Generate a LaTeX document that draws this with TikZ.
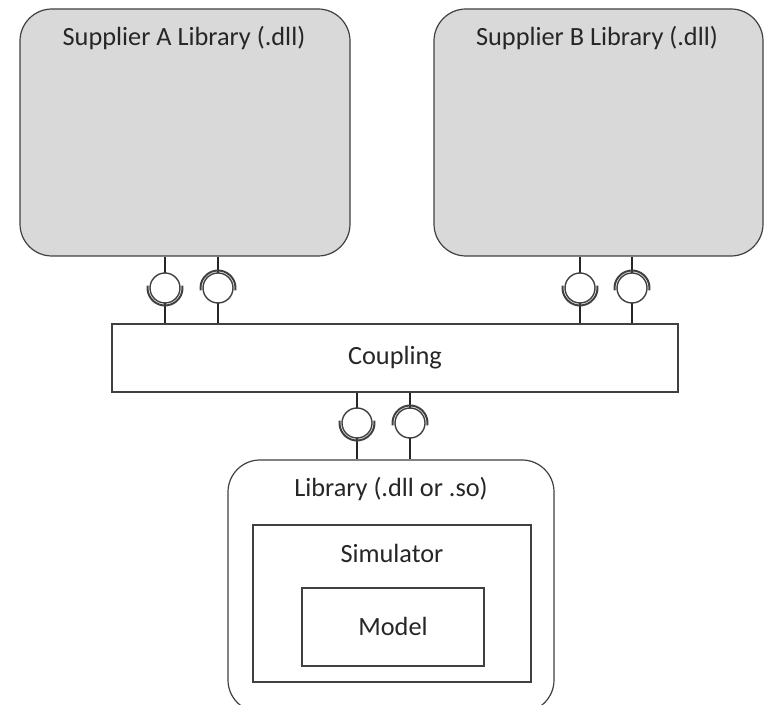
\documentclass[tikz,border=0pt]{standalone}
\usepackage{fontspec}
\setmainfont{Carlito}
\definecolor{boxfill}{HTML}{D9D9D9}
\definecolor{edge}{HTML}{404040}
\definecolor{txt}{HTML}{262626}
\tikzset{
  libbox/.style={draw=edge, line width=1.2pt, rounded corners=32pt, inner sep=0pt},
  plainbox/.style={draw=edge, line width=1.2pt, inner sep=0pt, fill=white},
  lbl/.style={text=txt, font=\fontsize{26.3}{31}\selectfont, anchor=base, inner sep=0pt},
  ball/.style={circle, draw=edge, line width=1.4pt, fill=white, minimum size=30pt, inner sep=0pt},
  wire/.style={draw=black!85, line width=2.2pt},
  socket/.style={draw=black!75, line width=2pt}
}
\begin{document}
\begin{tikzpicture}[x=1pt,y=1pt]
\useasboundingbox (0,0) rectangle (765,704);
\clip (0,0) rectangle (765,704);
% boxes
\node[libbox, fill=boxfill, minimum width=330pt, minimum height=247pt] (supA) at (185,571.5) {};
\node[libbox, fill=boxfill, minimum width=329pt, minimum height=247pt] (supB) at (598.5,571.5) {};
\node[plainbox, minimum width=566pt, minimum height=68pt] (coupling) at (395,346) {};
\node[libbox, fill=white, minimum width=326pt, minimum height=252pt] (lib) at (391,118) {};
\node[plainbox, minimum width=278pt, minimum height=157pt] (sim) at (392,100.5) {};
\node[plainbox, minimum width=182pt, minimum height=78pt] (model) at (393,77) {};
% labels
\node[lbl] (tA) at (184,658) {Supplier A Library (.dll)};
\node[lbl] (tB) at (597,658) {Supplier B Library (.dll)};
\node[lbl] (tC) at (395,339) {Coupling};
\node[lbl] (tL) at (391,207) {Library (.dll or .so)};
\node[lbl] (tS) at (392,142) {Simulator};
\node[lbl] (tM) at (393,69) {Model};
% interface balls
\coordinate (a1) at (165,416);
\coordinate (a2) at (218,416);
\coordinate (b1) at (580,416);
\coordinate (b2) at (632,416);
\coordinate (c1) at (357,281);
\coordinate (c2) at (410,281);
% wires
\foreach \p in {a1,a2}{\draw[wire] (supA.south -| \p) -- (coupling.north -| \p);}
\foreach \p in {b1,b2}{\draw[wire] (supB.south -| \p) -- (coupling.north -| \p);}
\foreach \p in {c1,c2}{\draw[wire] (coupling.south -| \p) -- (lib.north -| \p);}
% balls and sockets
\foreach \p in {a1,a2,b1,b2,c1,c2}{\node[ball] (n\p) at (\p) {};}
\foreach \p in {a1,b1,c1}{\draw[socket] ([shift={(172:17.5)}]\p) arc (172:368:17.5);}
\foreach \p in {a2,b2,c2}{\draw[socket] ([shift={(-8:17.5)}]\p) arc (-8:188:17.5);}
\end{tikzpicture}
\end{document}
